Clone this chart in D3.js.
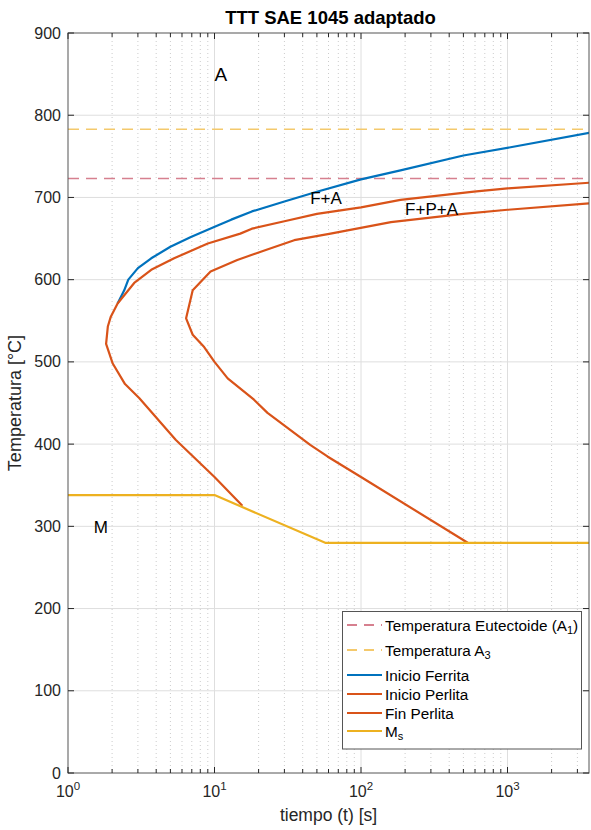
<!DOCTYPE html>
<html>
<head>
<meta charset="utf-8">
<script src="https://cdn.jsdelivr.net/npm/d3@7"></script>
<style>
  html, body { margin: 0; padding: 0; background: #fff; }
  svg { display: block; font-family: "Liberation Sans", Arial, Helvetica, sans-serif; }
</style>
</head>
<body>
<svg id="chart" width="591" height="830"></svg>
<script>
// Axis limits and tick values
const xLimits = [1, 3600];
const yLimits = [0, 900];
const xMajorTicks = [1, 10, 100, 1000];
const xTickExponents = ["0", "1", "2", "3"];
const yTicks = [0, 100, 200, 300, 400, 500, 600, 700, 800, 900];

// Critical temperatures [°C]
const tempA1 = 723;
const tempA3 = 783;

// Inicio Ferrita: time [s], temperature [°C]
const ferritaTime = [2.18, 2.42, 2.58, 3.0, 3.7, 5.0, 6.9, 10.5, 13, 18, 30, 50, 100, 186, 500, 1050, 3700];
const ferritaTemp = [571, 587, 600, 614, 626, 640, 652, 666, 673, 683, 695, 707, 722, 733, 751, 761, 779];

// Inicio Perlita
const inicioPerlitaTime = [3700, 1000, 590, 186, 100, 50, 30, 18, 15, 9, 5.3, 3.7, 2.83, 2.18, 1.96, 1.87, 1.82, 2.02, 2.45, 3.06, 5.45, 10, 15.5];
const inicioPerlitaTemp = [718, 711, 707, 697, 688, 680, 671, 662, 656, 644, 626, 612, 596, 571, 555, 543, 522, 498, 473, 456, 405, 360, 325];

// Fin Perlita
const finPerlitaTime = [3700, 1000, 500, 160, 62, 35, 22.4, 14.3, 9.4, 7.1, 6.4, 7.1, 8.5, 10, 12.3, 18.6, 23, 45, 59, 100, 535];
const finPerlitaTemp = [693, 685, 680, 670, 656, 648, 636, 624, 610, 587, 553, 533, 518, 500, 480, 454, 438, 399, 385, 360, 280];

// Martensite start
const msTime = [1, 10, 57, 3700];
const msTemp = [338, 338, 280, 280];

// Region labels: text, time, temperature
const regionText = ["A", "F+A", "F+P+A", "M"];
const regionTime = [10, 45, 200, 1.5];
const regionTemp = [850, 699, 685, 299];

const colors = {
  a1: "#d6808f",
  a3: "#f4c96c",
  ferrita: "#0072BD",
  perlita: "#D95319",
  ms: "#EDB120"
};

const W = 591, H = 830;
const margin = { left: 68, right: 2, top: 33, bottom: 57 };
const svg = d3.select("#chart");

const x = d3.scaleLog().domain(xLimits).range([margin.left, W - margin.right]);
const y = d3.scaleLinear().domain(yLimits).range([H - margin.bottom, margin.top]);
const [x0, x1] = x.range();
const [y0, y1] = y.range();

// Minor decade ticks (2..9 in each decade)
const xMinorTicks = [];
for (let d = 1; d <= 1000; d *= 10) {
  for (let k = 2; k <= 9; k++) {
    const v = k * d;
    if (v < xLimits[1]) xMinorTicks.push(v);
  }
}

const grid = svg.append("g");
grid.selectAll("line.minor").data(xMinorTicks).join("line")
  .attr("x1", d => x(d)).attr("x2", d => x(d))
  .attr("y1", y1).attr("y2", y0)
  .attr("stroke", "#cccccc").attr("stroke-width", 1)
  .attr("stroke-dasharray", "1,3");
grid.selectAll("line.xmaj").data(xMajorTicks.slice(1)).join("line")
  .attr("x1", d => x(d)).attr("x2", d => x(d))
  .attr("y1", y1).attr("y2", y0)
  .attr("stroke", "#dedede").attr("stroke-width", 1);
grid.selectAll("line.ymaj").data(yTicks.slice(1, -1)).join("line")
  .attr("x1", x0).attr("x2", x1)
  .attr("y1", d => y(d)).attr("y2", d => y(d))
  .attr("stroke", "#dedede").attr("stroke-width", 1);

// Curves
const clipId = "plotClip";
svg.append("clipPath").attr("id", clipId).append("rect")
  .attr("x", x0).attr("y", y1).attr("width", x1 - x0).attr("height", y0 - y1);

const plot = svg.append("g").attr("clip-path", `url(#${clipId})`);
const line = d3.line().x(d => x(d[0])).y(d => y(d[1]));
const zip = (a, b) => a.map((v, i) => [v, b[i]]);

const series = [
  { pts: [[xLimits[0], tempA1], [xLimits[1], tempA1]], color: colors.a1, dash: "11,7", width: 1.6 },
  { pts: [[xLimits[0], tempA3], [xLimits[1], tempA3]], color: colors.a3, dash: "11,7", width: 1.6 },
  { pts: zip(ferritaTime, ferritaTemp), color: colors.ferrita, width: 2.2 },
  { pts: zip(inicioPerlitaTime, inicioPerlitaTemp), color: colors.perlita, width: 2.2 },
  { pts: zip(finPerlitaTime, finPerlitaTemp), color: colors.perlita, width: 2.2 },
  { pts: zip(msTime, msTemp), color: colors.ms, width: 2.2 }
];
series.forEach(s => {
  plot.append("path").attr("d", line(s.pts))
    .attr("fill", "none").attr("stroke", s.color)
    .attr("stroke-width", s.width)
    .attr("stroke-dasharray", s.dash || null)
    .attr("stroke-linejoin", "round");
});

// Region labels
svg.append("g").selectAll("text").data(regionText).join("text")
  .attr("x", (d, i) => x(regionTime[i]))
  .attr("y", (d, i) => y(regionTemp[i]))
  .attr("dominant-baseline", "central")
  .attr("font-size", (d, i) => i === 0 ? 19 : 17).attr("fill", "#000")
  .text(d => d);

// Frame and ticks
const axisColor = "#262626";
const frame = svg.append("g");
frame.append("rect").attr("x", x0).attr("y", y1).attr("width", x1 - x0).attr("height", y0 - y1)
  .attr("fill", "none").attr("stroke", "#555").attr("stroke-width", 1);

const majorLen = 6, minorLen = 4;
xMajorTicks.concat(xMinorTicks).forEach(v => {
  const len = xMajorTicks.includes(v) ? majorLen : minorLen;
  frame.append("line").attr("x1", x(v)).attr("x2", x(v)).attr("y1", y0).attr("y2", y0 - len)
    .attr("stroke", axisColor);
  frame.append("line").attr("x1", x(v)).attr("x2", x(v)).attr("y1", y1).attr("y2", y1 + len)
    .attr("stroke", axisColor);
});
yTicks.forEach(v => {
  frame.append("line").attr("x1", x0).attr("x2", x0 + majorLen).attr("y1", y(v)).attr("y2", y(v))
    .attr("stroke", axisColor);
  frame.append("line").attr("x1", x1).attr("x2", x1 - majorLen).attr("y1", y(v)).attr("y2", y(v))
    .attr("stroke", axisColor);
});

// Tick labels
const tickFont = 16;
svg.append("g").selectAll("text").data(yTicks).join("text")
  .attr("x", x0 - 7).attr("y", d => y(d))
  .attr("text-anchor", "end").attr("dominant-baseline", "central")
  .attr("font-size", tickFont).attr("fill", axisColor)
  .text(d => d);

const xl = svg.append("g").selectAll("text").data(xMajorTicks).join("text")
  .attr("x", d => x(d)).attr("y", y0 + 24)
  .attr("text-anchor", "middle")
  .attr("font-size", tickFont).attr("fill", axisColor);
xl.append("tspan").text("10");
xl.append("tspan").attr("font-size", tickFont * 0.72).attr("dy", -7)
  .text((d, i) => xTickExponents[i]);

// Axis labels and title
svg.append("text").attr("x", (x0 + x1) / 2).attr("y", 821)
  .attr("text-anchor", "middle").attr("font-size", 17.5).attr("fill", axisColor)
  .text("tiempo (t) [s]");
svg.append("text")
  .attr("transform", `translate(21,${(y0 + y1) / 2}) rotate(-90)`)
  .attr("text-anchor", "middle").attr("font-size", 18).attr("fill", axisColor)
  .text("Temperatura [°C]");
svg.append("text").attr("x", (x0 + x1) / 2 + 2).attr("y", 24)
  .attr("text-anchor", "middle").attr("font-size", 18.5).attr("font-weight", "bold")
  .attr("fill", "#000")
  .text("TTT SAE 1045 adaptado");

// Legend
const legendRows = [
  { label: ["Temperatura Eutectoide (A", "1", ")"], color: colors.a1, dash: "10,7", dy: 625 },
  { label: ["Temperatura A", "3", ""], color: colors.a3, dash: "10,7", dy: 650 },
  { label: ["Inicio Ferrita", "", ""], color: colors.ferrita, dash: null, dy: 675 },
  { label: ["Inicio Perlita", "", ""], color: colors.perlita, dash: null, dy: 694 },
  { label: ["Fin Perlita", "", ""], color: colors.perlita, dash: null, dy: 713 },
  { label: ["M", "s", ""], color: colors.ms, dash: null, dy: 731 }
];
const lg = svg.append("g");
lg.append("rect").attr("x", 342.5).attr("y", 611.5).attr("width", 239).attr("height", 137.5)
  .attr("fill", "#fff").attr("stroke", "#555").attr("stroke-width", 1);
legendRows.forEach(r => {
  lg.append("line").attr("x1", 347).attr("x2", 382).attr("y1", r.dy).attr("y2", r.dy)
    .attr("stroke", r.color).attr("stroke-width", 2.2)
    .attr("stroke-dasharray", r.dash);
  const t = lg.append("text").attr("x", 385).attr("y", r.dy)
    .attr("dominant-baseline", "central").attr("font-size", 15.3).attr("fill", "#000");
  t.append("tspan").text(r.label[0]);
  if (r.label[1]) {
    t.append("tspan").attr("font-size", 11).attr("dy", 5).text(r.label[1]);
    if (r.label[2]) t.append("tspan").attr("dy", -5).text(r.label[2]);
  }
});
</script>
</body>
</html>
